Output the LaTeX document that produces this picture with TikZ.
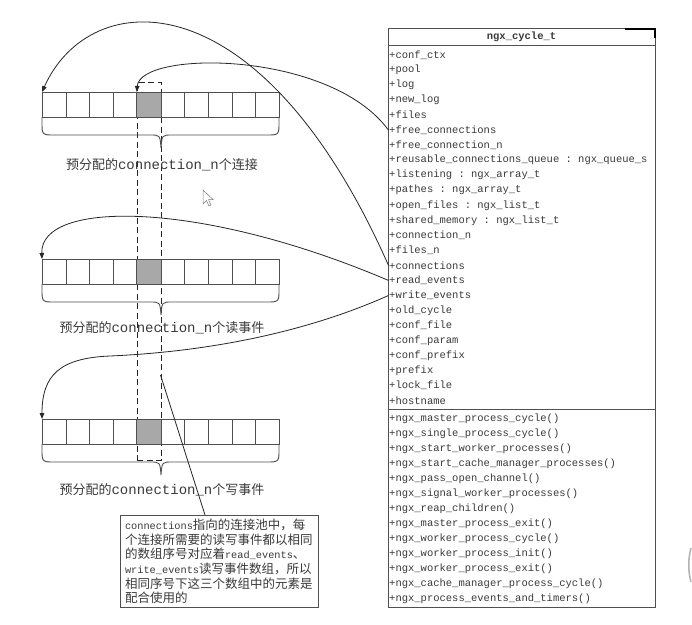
\documentclass[tikz,border=0pt]{standalone}
\usepackage{fontspec}
\setmonofont{Liberation Mono}
\newfontfamily\cjk{Noto Sans CJK SC}
\usetikzlibrary{arrows.meta,calc}
\definecolor{ln}{HTML}{505050}
\definecolor{tx}{HTML}{3A3A3A}
\definecolor{cellgray}{HTML}{A8A8A8}
\newcommand\lbllat[1]{{\ttfamily\fontsize{14}{16}\selectfont #1}}
\newcommand\notelat[1]{{\ttfamily\fontsize{10.3}{14.6}\selectfont #1}}
\tikzset{
  member/.style={anchor=west, inner sep=0.5pt, text=tx, font=\ttfamily\fontsize{10.5}{12}\selectfont},
  cell/.style={draw=ln, line width=0.9pt, minimum width=23.7pt, minimum height=25pt, inner sep=0pt, anchor=north west},
  ptr/.style={draw=black!85, line width=0.8pt, -{Triangle[length=6pt,width=4.5pt]}},
  bracepath/.style={draw=ln, line width=0.9pt},
  lbl/.style={text=tx, inner sep=0pt, font=\cjk\fontsize{13}{15}\selectfont},
  dashbox/.style={draw=black!85, dash pattern=on 6pt off 3.5pt, line width=0.8pt, inner sep=0pt, anchor=north west},
  notebox/.style={draw=ln, line width=1pt, anchor=north west, minimum width=198pt, minimum height=92pt,
    text width=189pt, align=left, inner xsep=4.5pt, inner ysep=2pt, text=tx, font=\cjk\fontsize{12.5}{14.6}\selectfont},
  classbox/.style={draw=ln, line width=1.1pt, anchor=north west, minimum width=267pt, minimum height=579pt, inner sep=0pt},
}
\begin{document}
\begin{tikzpicture}[x=1pt,y=-1pt]
\fill[white] (0,0) rectangle (692,624);
\useasboundingbox (0,0) rectangle (692,624);

% class box
\node[classbox] (cls) at (388,28) {};
\draw[ln, line width=1pt] (388,45) -- (655,45);
\draw[ln, line width=1pt] (388,409.5) -- (655,409.5);
\node[text=tx, inner sep=0pt, font=\ttfamily\bfseries\fontsize{10.5}{12}\selectfont] (title) at (521.5,37) {ngx\_cycle\_t};
\foreach \t [count=\i] in {+conf\_ctx,+pool,+log,+new\_log,+files,+free\_connections,+free\_connection\_n,
  +reusable\_connections\_queue : ngx\_queue\_s,+listening : ngx\_array\_t,+pathes : ngx\_array\_t,
  +open\_files : ngx\_list\_t,+shared\_memory : ngx\_list\_t,+connection\_n,+files\_n,+connections,
  +read\_events,+write\_events,+old\_cycle,+conf\_file,+conf\_param,+conf\_prefix,+prefix,+lock\_file,+hostname}
  \node[member] (a\i) at (388.5,{55+(\i-1)*15.03}) {\t};
\foreach \t [count=\i] in {+ngx\_master\_process\_cycle(),+ngx\_single\_process\_cycle(),+ngx\_start\_worker\_processes(),
  +ngx\_start\_cache\_manager\_processes(),+ngx\_pass\_open\_channel(),+ngx\_signal\_worker\_processes(),
  +ngx\_reap\_children(),+ngx\_master\_process\_exit(),+ngx\_worker\_process\_cycle(),+ngx\_worker\_process\_init(),
  +ngx\_worker\_process\_exit(),+ngx\_cache\_manager\_process\_cycle(),+ngx\_process\_events\_and\_timers()}
  \node[member] (m\i) at (388.5,{418.3+(\i-1)*15.08}) {\t};

% window corner artifacts
\draw[black, line width=2pt] (625,29) -- (655,29) -- (655,38);
\draw[gray!60, line width=1.5pt] (691,548) .. controls (688,558) and (688,572) .. (691,582);

% dashed column
\node[dashbox, minimum width=23.7pt, minimum height=378pt] (dr) at (136.8,82) {};
\coordinate (dp) at (160.5,375);

% arrays
\foreach \k/\tp in {1/92,2/259,3/419}{
  \foreach \i in {0,...,9}
    \node[cell] (c\k-\i) at ({42+\i*23.7},\tp) {};
  \fill[cellgray, draw=ln, line width=0.9pt] (c\k-4.north west) rectangle (c\k-4.south east);
  \pgfmathsetmacro\b{\tp+25}
  \draw[bracepath] (42,\b) -- (42,{\b+5}) .. controls (42,{\b+18}) .. (55,{\b+18}) -- (150,{\b+18})
     .. controls (160,{\b+18}) .. (161,{\b+31}) .. controls (162,{\b+18}) .. (172,{\b+18}) -- (266,{\b+18})
     .. controls (279,{\b+18}) .. (279,{\b+5}) -- (279,\b);
}

% labels
\node[lbl] (l1) at (162,165) {预分配的\lbllat{connection\_n}个连接};
\node[lbl] (l2) at (162,328) {预分配的\lbllat{connection\_n}个读事件};
\node[lbl] (l3) at (162,490) {预分配的\lbllat{connection\_n}个写事件};

% note
\node[notebox] (note) at (120,515) {\notelat{connections}指向的连接池中，每\\
个连接所需要的读写事件都以相同\\
的数组序号对应着\notelat{read\_events}、\\
\notelat{write\_events}读写事件数组，所以\\
相同序号下这三个数组中的元素是\\
配合使用的};
\draw[black!85, line width=0.8pt] (dp) -- ($(note.north west)+(85,0)$);

% pointers
\draw[ptr] (a15.west) .. controls (260,-25) and (90,-15) .. (c1-0.north west);
\draw[ptr] (a6.west) .. controls (330,50) and (140,50) .. (c1-4.north west);
\draw[ptr] (a16.west) .. controls (200,200) and (40,200) .. (c2-0.north west);
\draw[ptr] (a17.west) .. controls (300,335) and (200,352) .. (110,356) .. controls (60,358) and (42,375) .. (c3-0.north west);

% mouse cursor
\draw[gray, line width=0.5pt, fill=white] (203,190) -- (203,204) -- (206.5,200.5) -- (209,206) -- (211,205) -- (208.5,199.5) -- (213,199.5) -- cycle;
\end{tikzpicture}
\end{document}
